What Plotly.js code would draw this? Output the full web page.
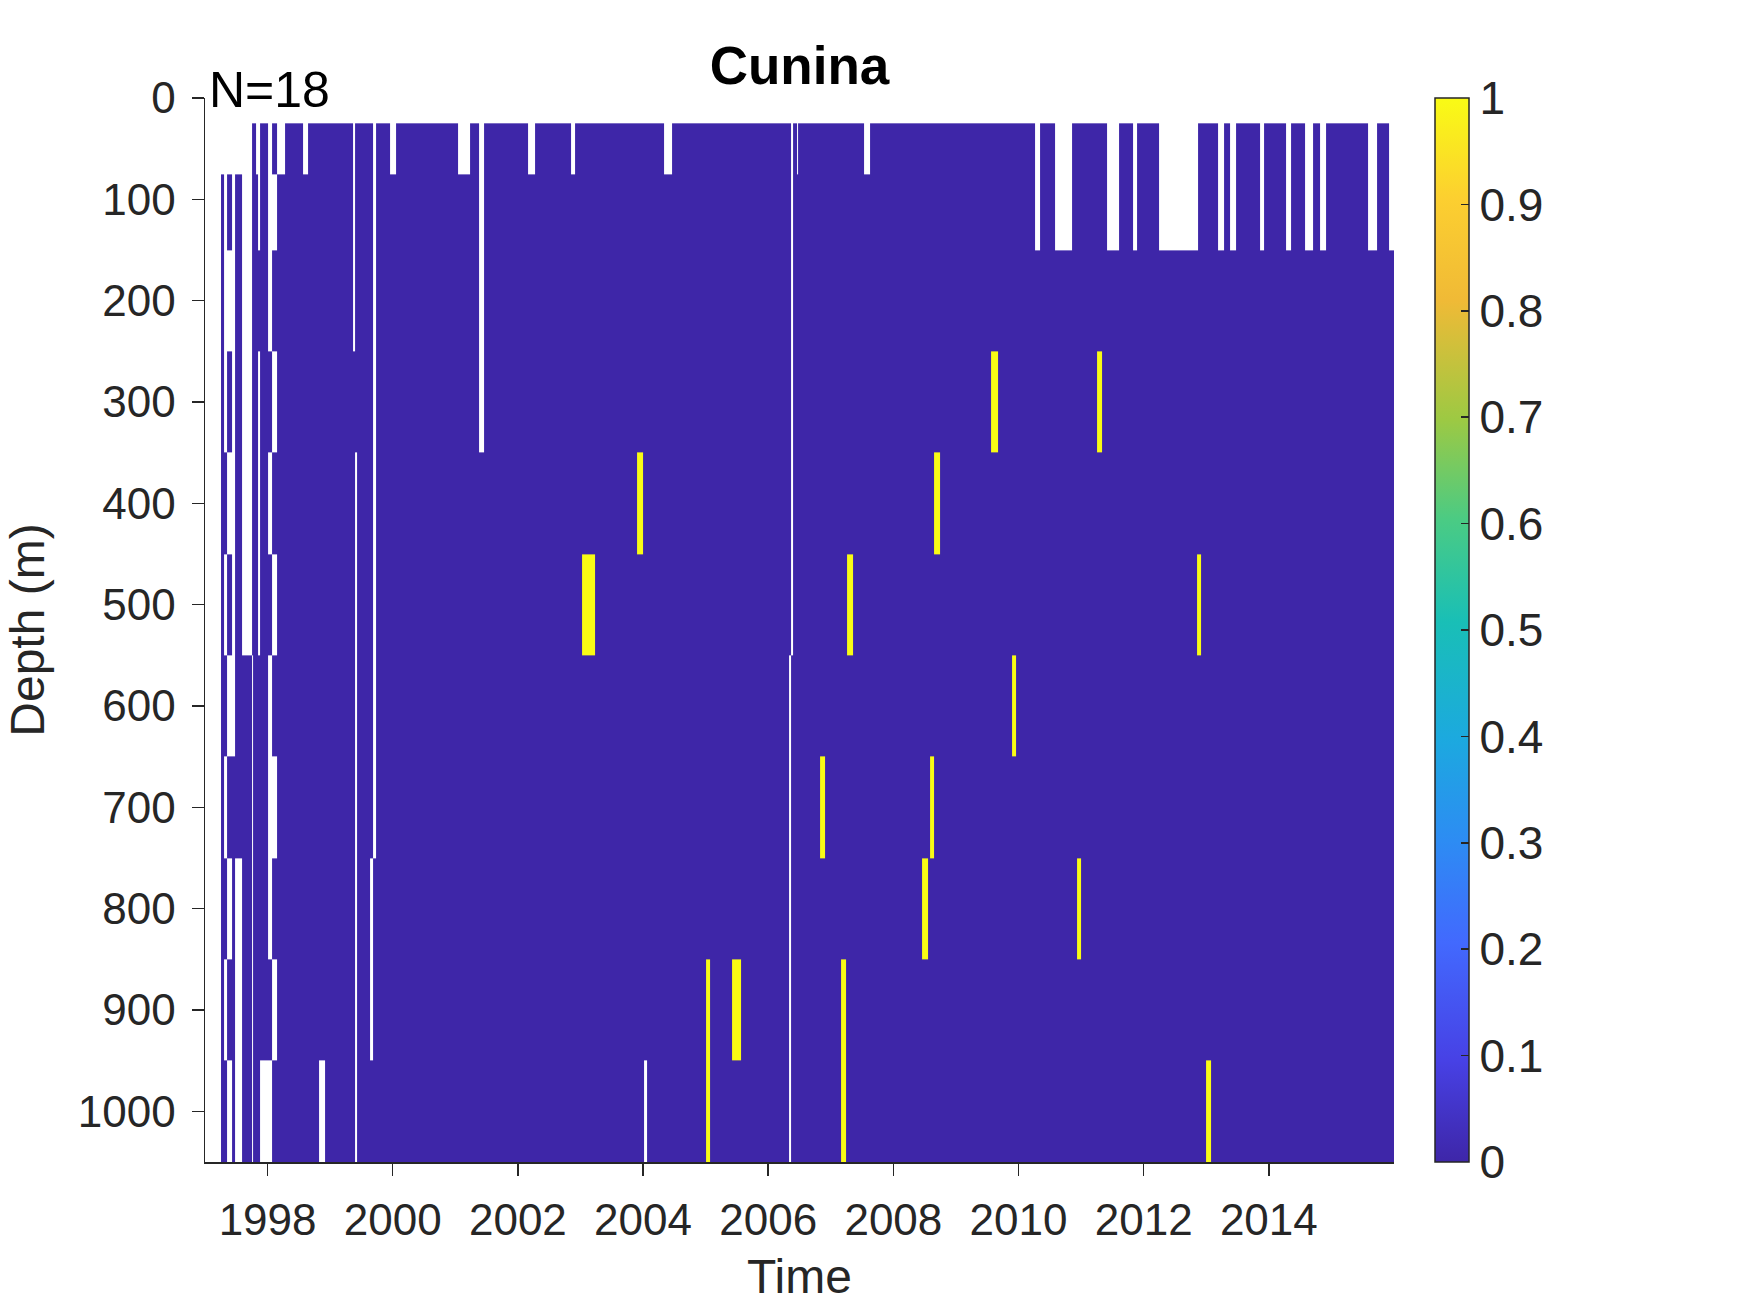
<!DOCTYPE html>
<html>
<head>
<meta charset="utf-8">
<script src="https://cdn.plot.ly/plotly-3.0.1.min.js"></script>
<style>html,body{margin:0;padding:0;background:#fff}#chart{width:1750px;height:1313px}</style>
</head>
<body>
<div id="chart"></div>
<script>
// ---------------- data ----------------
// depth bins (m): net edges
const depthEdges = [25, 75, 150, 250, 350, 450, 550, 650, 750, 850, 950, 1050];
// early cruises (1997-1998): column edges (decimal year) and per-depth-bin presence (1 = sampled, 0 = no sample)
const earlyEdges = [1997.256, 1997.309, 1997.352, 1997.426, 1997.479, 1997.597, 1997.746, 1997.770,
                    1997.810, 1997.852, 1997.879, 1998.012, 1998.066, 1998.146, 1998.279];
const earlyPresence = [
  [0,0,0,0,0,0,1,1,0,0,1,0,1,0],
  [1,0,1,0,1,0,1,1,1,0,1,0,0,1],
  [1,0,0,0,1,0,1,1,1,1,1,0,1,1],
  [1,0,1,0,1,0,1,1,1,0,1,1,0,1],
  [1,1,0,0,1,0,1,1,1,0,1,0,1,1],
  [1,0,1,0,1,0,1,1,1,0,1,1,0,1],
  [1,1,0,0,1,1,0,1,1,1,1,0,1,1],
  [1,0,1,1,1,1,0,1,1,1,1,0,0,1],
  [1,1,0,1,0,1,0,1,1,1,1,0,1,1],
  [1,0,1,1,0,1,0,1,1,1,1,1,0,1],
  [1,1,0,1,0,1,0,1,1,1,0,0,1,1]
];
const seriesEnd = 2016.0;
// missing samples after 1998.279: [start year, end year, top depth, bottom depth]
const gaps = [
  [1998.571, 1998.651, 25, 75],
  [1998.820, 1998.910, 950, 1050],
  [1999.360, 1999.400, 25, 250],
  [1999.400, 1999.425, 350, 1050],
  [1999.680, 1999.740, 25, 750],
  [1999.637, 1999.680, 750, 950],
  [1999.950, 2000.060, 25, 75],
  [2001.040, 2001.230, 25, 75],
  [2001.380, 2001.460, 25, 350],
  [2002.160, 2002.270, 25, 75],
  [2002.850, 2002.910, 25, 75],
  [2004.010, 2004.060, 950, 1050],
  [2004.340, 2004.470, 25, 75],
  [2006.340, 2006.365, 550, 1050],
  [2006.365, 2006.390, 25, 550],
  [2006.455, 2006.480, 25, 75],
  [2007.530, 2007.630, 25, 75],
  [2010.265, 2010.345, 25, 150],
  [2010.585, 2010.860, 25, 150],
  [2011.420, 2011.600, 25, 150],
  [2011.830, 2011.900, 25, 150],
  [2012.250, 2012.875, 25, 150],
  [2013.195, 2013.285, 25, 150],
  [2013.380, 2013.475, 25, 150],
  [2013.860, 2013.915, 25, 150],
  [2014.280, 2014.360, 25, 150],
  [2014.580, 2014.700, 25, 150],
  [2014.820, 2014.920, 25, 150],
  [2015.590, 2015.735, 25, 150],
  [2015.920, 2016.000, 25, 150]
];
// presence (value 1) records: [start year, end year, top depth, bottom depth]
const presence = [
  [2003.90, 2004.00, 350, 450],
  [2003.03, 2003.23, 450, 550],
  [2005.01, 2005.07, 850, 1050],
  [2005.42, 2005.57, 850, 950],
  [2006.83, 2006.90, 650, 750],
  [2007.17, 2007.24, 850, 1050],
  [2007.26, 2007.35, 450, 550],
  [2008.46, 2008.56, 750, 850],
  [2008.58, 2008.65, 650, 750],
  [2008.65, 2008.74, 350, 450],
  [2009.56, 2009.67, 250, 350],
  [2009.90, 2009.955, 550, 650],
  [2010.94, 2011.00, 750, 850],
  [2011.26, 2011.33, 250, 350],
  [2012.86, 2012.915, 450, 550],
  [2013.00, 2013.07, 950, 1050]
];
const xTicks = [1998, 2000, 2002, 2004, 2006, 2008, 2010, 2012, 2014];
const yTicks = [0, 100, 200, 300, 400, 500, 600, 700, 800, 900, 1000];
const cbTicks = [0, 0.1, 0.2, 0.3, 0.4, 0.5, 0.6, 0.7, 0.8, 0.9, 1];
const titleText = 'Cunina';
const countText = 'N=18';

// ---------------- build grid ----------------
let bp = new Set(earlyEdges.concat([seriesEnd]));
gaps.forEach(g => { bp.add(g[0]); bp.add(g[1]); });
presence.forEach(p => { bp.add(p[0]); bp.add(p[1]); });
const xEdges = Array.from(bp).sort((a, b) => a - b);
const nRows = depthEdges.length - 1;
const z = [];
for (let r = 0; r < nRows; r++) {
  const dm = (depthEdges[r] + depthEdges[r + 1]) / 2;
  const row = [];
  for (let c = 0; c < xEdges.length - 1; c++) {
    const tm = (xEdges[c] + xEdges[c + 1]) / 2;
    let v = 0;
    if (tm < earlyEdges[earlyEdges.length - 1]) {
      let k = 0;
      while (k < earlyEdges.length - 2 && tm >= earlyEdges[k + 1]) k++;
      v = earlyPresence[r][k] ? 0 : null;
    }
    for (const g of gaps) if (tm > g[0] && tm < g[1] && dm > g[2] && dm < g[3]) v = null;
    for (const p of presence) if (tm > p[0] && tm < p[1] && dm > p[2] && dm < p[3]) v = 1;
    row.push(v);
  }
  z.push(row);
}

const parula = [
  [0.000, 'rgb(62,38,168)'], [0.095, 'rgb(71,65,229)'], [0.206, 'rgb(66,105,254)'],
  [0.302, 'rgb(45,140,243)'], [0.397, 'rgb(28,169,223)'], [0.508, 'rgb(25,191,182)'],
  [0.603, 'rgb(74,203,132)'], [0.698, 'rgb(157,201,67)'], [0.810, 'rgb(240,186,54)'],
  [0.905, 'rgb(252,207,48)'], [1.000, 'rgb(249,251,21)']
];

const W = 1750, H = 1313;
const L = 205, R = 356, T = 98, B = 151;
const plotW = W - L - R;
const axisColor = '#262626';
const fontFam = 'Liberation Sans, Arial, Helvetica, sans-serif';

const trace = {
  type: 'heatmap', x: xEdges, y: depthEdges, z: z,
  zmin: 0, zmax: 1, colorscale: parula, hoverongaps: false,
  colorbar: {
    x: (1435 - L) / plotW, xanchor: 'left', xpad: 0,
    y: 0.5, yanchor: 'middle', ypad: 0, len: 1, lenmode: 'fraction',
    thickness: 34, outlinewidth: 1.5, outlinecolor: axisColor,
    tickmode: 'array', tickvals: cbTicks, ticks: 'inside', ticklen: 8,
    tickwidth: 1.5, tickcolor: axisColor,
    tickfont: {family: fontFam, size: 46, color: axisColor}
  }
};

const layout = {
  width: W, height: H,
  margin: {l: L, r: R, t: T, b: B},
  paper_bgcolor: '#fff', plot_bgcolor: '#fff',
  font: {family: fontFam, color: axisColor},
  title: {text: '<b>' + titleText + '</b>', font: {family: fontFam, size: 53, color: '#000'},
          x: 0.5, xref: 'paper', xanchor: 'center', y: 1 - 65 / H, yref: 'container', yanchor: 'middle'},
  xaxis: {
    range: [1997, 2016], tickmode: 'array', tickvals: xTicks, showgrid: false, zeroline: false,
    showline: true, linecolor: axisColor, linewidth: 1.5, ticks: 'outside', ticklen: 12,
    tickwidth: 1.5, tickcolor: axisColor, ticklabelstandoff: 7,
    tickfont: {family: fontFam, size: 44, color: axisColor},
    title: {text: 'Time', font: {family: fontFam, size: 48, color: axisColor}, standoff: 16}
  },
  yaxis: {
    range: [1050, 0], tickmode: 'array', tickvals: yTicks, showgrid: false, zeroline: false,
    showline: true, linecolor: axisColor, linewidth: 1.5, ticks: 'outside', ticklen: 12,
    tickwidth: 1.5, tickcolor: axisColor, ticklabelstandoff: 7,
    tickfont: {family: fontFam, size: 44, color: axisColor},
    title: {text: 'Depth (m)', font: {family: fontFam, size: 48, color: axisColor}, standoff: 18}
  },
  annotations: [{
    text: countText, xref: 'paper', yref: 'paper', x: (207 - L) / plotW, y: 1 + 8 / (H - T - B),
    xanchor: 'left', yanchor: 'middle', showarrow: false,
    font: {family: fontFam, size: 50, color: '#000'}
  }]
};

Plotly.newPlot('chart', [trace], layout, {displayModeBar: false, staticPlot: true});
</script>
</body>
</html>
